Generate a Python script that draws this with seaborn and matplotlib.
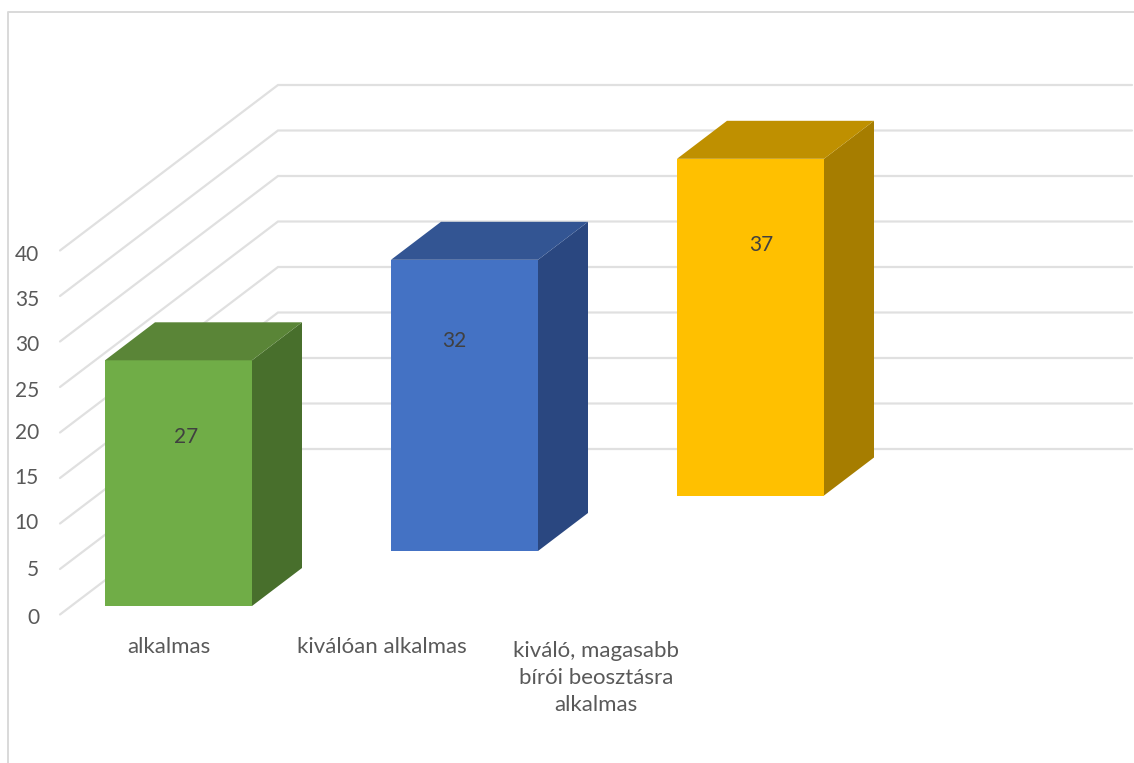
import matplotlib
matplotlib.use("Agg")
from matplotlib import pyplot as plt
from matplotlib.patches import Polygon
import seaborn as sns

categories = ["alkalmas", "kiválóan alkalmas", "kiváló, magasabb\nbírói beosztásra\nalkalmas"]
values = [27, 32, 37]
tick_values = [0, 5, 10, 15, 20, 25, 30, 35, 40]

front_colors = ["#70AD47", "#4472C4", "#FFC000"]
side_colors = ["#486F2C", "#2A4780", "#A67D00"]
top_colors = ["#5A8537", "#335593", "#BF9000"]

# pixel layout of the reference, everything below is converted to data units
W, H = 1134, 763
PX_UNIT = 9.1      # pixels per value unit
PX_CAT = 286       # pixels between bars
X0_PX = 178.5      # centre of first bar
Y0_PX = 614.5      # value 0 on the front edge

def px_x(px):
    return (px - X0_PX) / PX_CAT

def px_y(py):
    return (Y0_PX - py) / PX_UNIT

bar_lift = [px_y(606), px_y(551), px_y(495.5)]  # bars float up the sloped floor
depth_x = 50 / PX_CAT
depth_y = 38 / PX_UNIT
wall_rise = 165.5 / PX_UNIT

sns.set_theme(style="white")
plt.rcParams["font.family"] = ["Lato", "DejaVu Sans"]

fig = plt.figure(figsize=(W / 100, H / 100), dpi=100)
ax = fig.add_axes([0, 0, 1, 1])

# floor/wall gridlines: from the front edge back to the wall, then to the right
for v in tick_values:
    ax.plot([px_x(60), px_x(278), px_x(1132)],
            [v, v + wall_rise, v + wall_rise],
            color="#E0E0E0", lw=1.6, zorder=1, solid_joinstyle="miter")

sns.barplot(x=categories, y=values, hue=categories, palette=front_colors,
            dodge=False, legend=False, width=147 / PX_CAT, saturation=1,
            linewidth=0, ax=ax, zorder=3)

for patch, lift, side, top in zip(ax.patches, bar_lift, side_colors, top_colors):
    patch.set_y(lift)
    x, w, h = patch.get_x(), patch.get_width(), patch.get_height()
    y = lift
    ax.add_patch(Polygon([(x + w, y), (x + w + depth_x, y + depth_y),
                          (x + w + depth_x, y + h + depth_y), (x + w, y + h)],
                         closed=True, facecolor=side, edgecolor="none", zorder=3))
    ax.add_patch(Polygon([(x, y + h), (x + depth_x, y + h + depth_y),
                          (x + w + depth_x, y + h + depth_y), (x + w, y + h)],
                         closed=True, facecolor=top, edgecolor="none", zorder=3))

ax.set_xlim(px_x(0), px_x(W))
ax.set_ylim(px_y(H), px_y(0))
ax.axis("off")

# chart frame, only top and left are visible in the crop
ax.plot([px_x(8), px_x(8), px_x(W)], [px_y(H), px_y(12), px_y(12)],
        color="#D9D9D9", lw=1.4, zorder=1)

text_color = "#595959"
for v, py in zip(tick_values, [618, 570, 523, 478, 433, 391, 345, 300, 255]):
    ax.text(px_x(39), px_y(py), str(v), ha="right", va="center", fontsize=15, color=text_color)

for cat, px, py in zip(categories, [169, 382, 596], [647, 647, 678]):
    ax.text(px_x(px), px_y(py), cat, ha="center", va="center", fontsize=16,
            color=text_color, linespacing=1.45)

for v, px, py in zip(values, [186, 454, 761], [437, 341, 245]):
    ax.text(px_x(px), px_y(py), str(v), ha="center", va="center", fontsize=15,
            color="#404040", zorder=5)

fig.savefig("out.png", dpi=100)
